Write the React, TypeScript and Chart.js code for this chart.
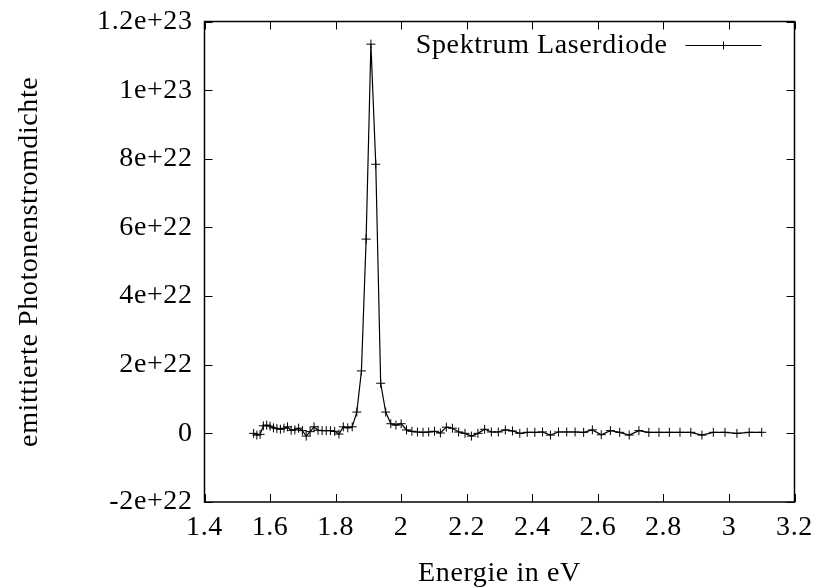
import React, { useEffect, useRef } from 'react';
import { Chart, registerables } from 'chart.js';

Chart.register(...registerables);

// Photon energy in eV (spectrometer grid)
const energies = [
  1.5500, 1.5597, 1.5696, 1.5796, 1.5897, 1.6000, 1.6104, 1.6209, 1.6316, 1.6424,
  1.6533, 1.6644, 1.6757, 1.6871, 1.6986, 1.7103, 1.7222, 1.7343, 1.7465, 1.7589,
  1.7714, 1.7842, 1.7971, 1.8102, 1.8235, 1.8370, 1.8507, 1.8647, 1.8788, 1.8931,
  1.9077, 1.9225, 1.9375, 1.9528, 1.9683, 1.9840, 2.0000, 2.0163, 2.0328, 2.0496,
  2.0667, 2.0840, 2.1017, 2.1197, 2.1379, 2.1565, 2.1754, 2.1947, 2.2143, 2.2342,
  2.2545, 2.2752, 2.2963, 2.3178, 2.3396, 2.3619, 2.3846, 2.4078, 2.4314, 2.4554,
  2.4800, 2.5051, 2.5306, 2.5567, 2.5833, 2.6105, 2.6383, 2.6667, 2.6957, 2.7253,
  2.7556, 2.7865, 2.8182, 2.8506, 2.8837, 2.9176, 2.9524, 2.9880, 3.0244, 3.0617,
  3.1000,
];

// Emitted photon flux density
const photonDensity = [
  0.0e21, -0.5e21, -0.3e21, 2.2e21, 2.4e21, 2.1e21, 1.6e21, 1.4e21, 1.2e21, 1.5e21,
  1.9e21, 0.9e21, 1.0e21, 1.5e21, 0.8e21, -0.8e21, 0.5e21, 1.9e21, 0.9e21, 0.8e21,
  0.8e21, 0.8e21, 0.6e21, -0.2e21, 1.9e21, 1.6e21, 1.9e21, 6.2e21, 18.2e21, 56.6e21,
  113.4e21, 78.4e21, 14.6e21, 6.2e21, 2.8e21, 2.4e21, 2.8e21, 1.0e21, 0.6e21, 0.4e21,
  0.3e21, 0.4e21, 0.6e21, 0.1e21, 1.8e21, 1.5e21, 0.4e21, 0.0e21, -0.8e21, 0.0e21,
  1.2e21, 0.4e21, 0.4e21, 1.0e21, 0.7e21, 0.0e21, 0.3e21, 0.3e21, 0.4e21, -0.5e21,
  0.4e21, 0.4e21, 0.4e21, 0.3e21, 1.0e21, -0.4e21, 0.8e21, 0.3e21, -0.5e21, 0.8e21,
  0.3e21, 0.3e21, 0.3e21, 0.3e21, 0.3e21, -0.5e21, 0.3e21, 0.3e21, 0.0e21, 0.3e21,
  0.3e21,
];

const xTickValues = [1.4, 1.6, 1.8, 2.0, 2.2, 2.4, 2.6, 2.8, 3.0, 3.2];
const xTickLabels = ['1.4', '1.6', '1.8', '2', '2.2', '2.4', '2.6', '2.8', '3', '3.2'];
const yTickValues = [-2e22, 0, 2e22, 4e22, 6e22, 8e22, 1e23, 1.2e23];
const yTickLabels = ['-2e+22', '0', '2e+22', '4e+22', '6e+22', '8e+22', '1e+23', '1.2e+23'];

const seriesLabel = 'Spektrum Laserdiode';
const xTitle = 'Energie in eV';
const yTitle = 'emittierte Photonenstromdichte';

const FONT = "'Liberation Serif', 'DejaVu Serif', serif";
const FS = 28;

const drawCross = (ctx: CanvasRenderingContext2D, cx: number, cy: number, r: number) => {
  ctx.beginPath();
  ctx.moveTo(cx - r, cy);
  ctx.lineTo(cx + r, cy);
  ctx.moveTo(cx, cy - r);
  ctx.lineTo(cx, cy + r);
  ctx.stroke();
};

const framePlugin = {
  id: 'gnuplotFrame',
  beforeDraw(chart: any) {
    try {
      (chart.ctx as any).letterSpacing = '0.6px';
    } catch (e) {
      /* ignore */
    }
  },
  afterDatasetsDraw(chart: any) {
    const { ctx, chartArea: a, scales } = chart;
    const xs = scales.x;
    const ys = scales.y;
    ctx.save();
    ctx.strokeStyle = '#000';
    ctx.lineWidth = 1;
    const L = 8;
    ctx.beginPath();
    xs.ticks.forEach((t: any) => {
      const px = Math.round(xs.getPixelForValue(t.value)) + 0.5;
      ctx.moveTo(px, a.bottom);
      ctx.lineTo(px, a.bottom - L);
      ctx.moveTo(px, a.top);
      ctx.lineTo(px, a.top + L);
    });
    ys.ticks.forEach((t: any) => {
      const py = Math.round(ys.getPixelForValue(t.value)) + 0.5;
      ctx.moveTo(a.left, py);
      ctx.lineTo(a.left + L, py);
      ctx.moveTo(a.right, py);
      ctx.lineTo(a.right - L, py);
    });
    ctx.stroke();
    ctx.lineWidth = 1.5;
    ctx.strokeRect(a.left, a.top, a.right - a.left, a.bottom - a.top);

    // key (gnuplot style, top right inside)
    const ky = a.top + 24;
    ctx.fillStyle = '#000';
    ctx.font = `${FS}px ${FONT}`;
    ctx.textAlign = 'right';
    ctx.textBaseline = 'middle';
    ctx.fillText(seriesLabel, a.right - 127, ky);
    ctx.lineWidth = 1.2;
    ctx.beginPath();
    ctx.moveTo(a.right - 109, ky);
    ctx.lineTo(a.right - 33, ky);
    ctx.stroke();
    ctx.lineWidth = 1;
    drawCross(ctx, a.right - 71, ky, 4);
    ctx.restore();
  },
};

export default function App() {
  const ref = useRef<HTMLCanvasElement | null>(null);

  useEffect(() => {
    if (!ref.current) return;
    const points = energies.map((e, i) => ({ x: e, y: photonDensity[i] }));
    const chart = new Chart(ref.current, {
      type: 'line',
      data: {
        datasets: [
          {
            label: seriesLabel,
            data: points,
            borderColor: '#000',
            backgroundColor: '#000',
            borderWidth: 1.2,
            pointStyle: 'cross',
            pointRadius: 4.5,
            pointBorderWidth: 1,
            pointBorderColor: '#000',
            tension: 0,
            fill: false,
          },
        ],
      },
      options: {
        animation: false,
        responsive: false,
        maintainAspectRatio: false,
        layout: { padding: { left: 0, right: 24.5, top: 21.5, bottom: 0 } },
        plugins: {
          legend: { display: false },
          tooltip: { enabled: false },
        },
        scales: {
          x: {
            type: 'linear',
            min: 1.4,
            max: 3.2,
            afterBuildTicks: (s: any) => {
              s.ticks = xTickValues.map((v) => ({ value: v }));
            },
            afterFit: (s: any) => {
              s.height = 85;
              s.paddingLeft = 0;
              s.paddingRight = 0;
            },
            grid: { display: false, drawTicks: false },
            border: { display: false },
            ticks: {
              color: '#000',
              padding: 9,
              maxRotation: 0,
              autoSkip: false,
              font: { family: FONT, size: FS },
              callback: (v: any) => {
                const i = xTickValues.findIndex((t) => Math.abs(t - Number(v)) < 1e-9);
                return i >= 0 ? xTickLabels[i] : '';
              },
            },
            title: {
              display: true,
              text: xTitle,
              color: '#000',
              font: { family: FONT, size: FS },
              padding: { top: 0, bottom: -3 },
            },
          },
          y: {
            type: 'linear',
            min: -2e22,
            max: 1.2e23,
            afterBuildTicks: (s: any) => {
              s.ticks = yTickValues.map((v) => ({ value: v }));
            },
            afterFit: (s: any) => {
              s.width = 204.5;
              s.paddingTop = 0;
              s.paddingBottom = 0;
            },
            grid: { display: false, drawTicks: false },
            border: { display: false },
            ticks: {
              color: '#000',
              padding: 12,
              autoSkip: false,
              font: { family: FONT, size: FS },
              callback: (v: any) => {
                const i = yTickValues.findIndex((t) => Math.abs(t - Number(v)) < 1e10);
                return i >= 0 ? yTickLabels[i] : '';
              },
            },
            title: {
              display: true,
              text: yTitle,
              color: '#000',
              font: { family: FONT, size: FS },
              padding: { top: 13, bottom: 0 },
            },
          },
        },
      },
      plugins: [framePlugin],
    });
    return () => chart.destroy();
  }, []);

  return (
    <div style={{ position: 'absolute', left: 0, top: 0, width: 819, height: 587, background: '#fff' }}>
      <canvas ref={ref} width={819} height={587} />
    </div>
  );
}
